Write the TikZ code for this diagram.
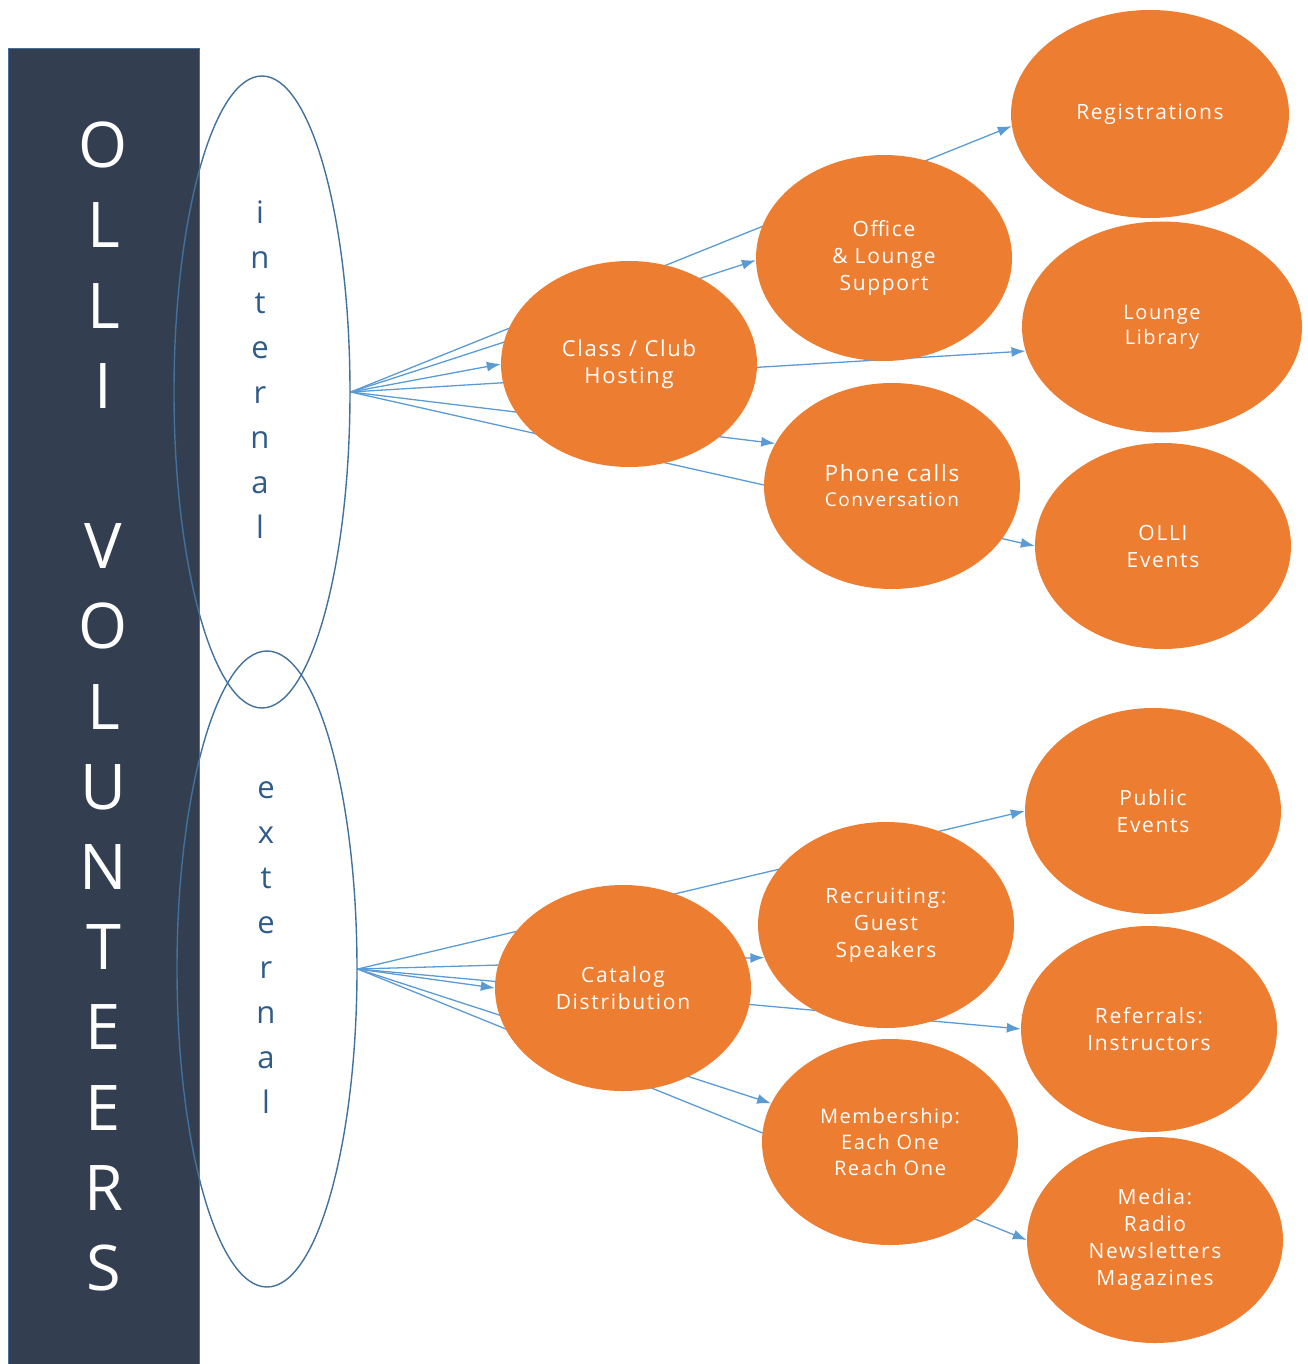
\documentclass[tikz,border=0pt]{standalone}
\usepackage{fontspec}
\setmainfont[LetterSpace=8]{Open Sans}
\usetikzlibrary{arrows.meta,shapes.geometric}
\definecolor{olliorange}{HTML}{ED7D31}
\definecolor{ollibar}{HTML}{333F50}
\definecolor{ollilink}{HTML}{5B9BD5}
\definecolor{olliedge}{HTML}{41719C}
\definecolor{ollitext}{HTML}{2F5B8A}
\pgfdeclarelayer{links}
\pgfsetlayers{links,main}
\tikzset{
  bar/.style={draw=olliedge, fill=ollibar, line width=1pt, text=white, align=center, inner sep=0pt,
    minimum width=191pt, minimum height=1315pt, font=\fontsize{63}{80.2}\selectfont},
  side/.style={ellipse, draw=olliedge, line width=1.4pt, inner sep=0pt},
  sidetxt/.style={text=ollitext, align=center, font=\fontsize{31}{45}\selectfont},
  task/.style={ellipse, fill=olliorange, text=white, align=center, inner sep=0pt,
    minimum width=256pt, minimum height=206pt, font=\fontsize{21}{27}\selectfont},
  link/.style={-{Latex[length=14pt,width=10pt]}, draw=ollilink, line width=1.3pt},
}

\begin{document}
\begin{tikzpicture}[x=1pt, y=-1pt]
  \useasboundingbox (0,0) rectangle (1307,1364);

  % Left bar
  \node[bar] (olli) at (103.5,706.5) {O\\L\\L\\I\\[80.2pt]V\\O\\L\\U\\N\\T\\E\\E\\R\\S};

  % Internal / external groups
  \node[side, minimum width=176pt, minimum height=632pt] (int) at (262,392) {};
  \node[sidetxt] (intlbl) at (260,370) {i\\n\\t\\e\\r\\n\\a\\l};
  \node[side, minimum width=180pt, minimum height=636pt] (ext) at (267,969) {};
  \node[sidetxt] (extlbl) at (266,948) {e\\x\\t\\e\\r\\n\\a\\l};

  % Internal tasks
  \node[task, minimum width=278pt, minimum height=208pt] (reg) at (1150,114) {Registrations};
  \node[task] (off) at (884,258) {Office\\\& Lounge\\Support};
  \node[task, font=\fontsize{22}{27}\selectfont] (cls) at (629,364) {Class / Club\\Hosting};
  \node[task, minimum width=280pt, minimum height=211pt, font=\fontsize{20}{25}\selectfont] (lib) at (1162,327) {Lounge\\Library};
  \node[task, font=\fontsize{19}{25}\selectfont] (pho) at (892,486) {{\fontsize{22.5}{25}\selectfont Phone calls}\\Conversation};
  \node[task] (evt) at (1163,546) {OLLI\\Events};

  % External tasks
  \node[task] (pub) at (1153,811) {Public\\Events};
  \node[task] (rec) at (886,925) {Recruiting:\\Guest\\Speakers};
  \node[task] (cat) at (623,988) {Catalog\\Distribution};
  \node[task] (ref) at (1149,1029) {Referrals:\\Instructors};
  \node[task, font=\fontsize{20}{26}\selectfont] (mem) at (890,1142) {Membership:\\Each One\\Reach One};
  \node[task] (med) at (1155,1240) {Media:\\Radio\\Newsletters\\Magazines};

  % Arrows (behind the tasks)
  \begin{pgfonlayer}{links}
    \draw[link] (int.east) -- (reg.185);
    \draw[link] (int.east) -- (off.181);
    \draw[link] (int.east) -- (cls.west);
    \draw[link] (int.east) -- (lib.190);
    \draw[link] (int.east) -- (pho.160);
    \draw[link] (int.east) -- (evt.west);
    \draw[link] (ext.east) -- (pub.west);
    \draw[link] (ext.east) -- (rec.195);
    \draw[link] (ext.east) -- (cat.west);
    \draw[link] (ext.east) -- (ref.west);
    \draw[link] (ext.east) -- (mem.162);
    \draw[link] (ext.east) -- (med.west);
  \end{pgfonlayer}
\end{tikzpicture}
\end{document}
